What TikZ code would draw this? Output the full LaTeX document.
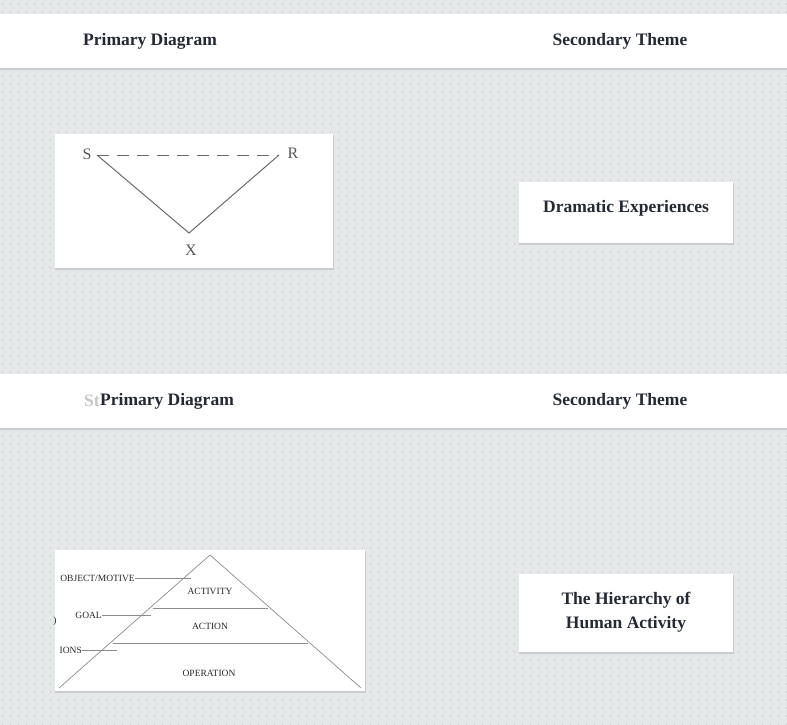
\documentclass[tikz,border=0pt]{standalone}
\usepackage{fontspec}
\setmainfont{Liberation Serif}
\usepackage{xcolor}
\usetikzlibrary{positioning}

\definecolor{pagebg}{HTML}{E5E8E9}
\definecolor{dotgray}{HTML}{CDD2D5}
\definecolor{inkdark}{HTML}{242A35}
\definecolor{shadowgray}{HTML}{C8CCD0}
\definecolor{linegray}{HTML}{6A6A6A}

\tikzset{
  band/.style={fill=white},
  cardshadow/.style={fill=shadowgray},
  headtext/.style={font=\bfseries\fontsize{17.5}{20}\selectfont, text=inkdark},
  figtext/.style={font=\fontsize{9.5}{11}\selectfont, text=black!85, inner sep=0pt},
  trilabel/.style={font=\fontsize{16}{18}\selectfont, text=black!65, inner sep=0pt},
  tri/.style={draw=linegray, line width=1pt},
  pyr/.style={draw=black!45, line width=0.7pt}
}

\begin{document}
\begin{tikzpicture}[x=1pt, y=-1pt]
        \useasboundingbox (0, 0) rectangle (787, 725);
        \fill[pagebg] (0, 0) rectangle (787, 725);
        \foreach \y in {4, 12, ..., 724}
            \draw[dotgray, line width=1.2pt, dash pattern=on 1.2pt off 6.8pt] (2, \y) -- (787, \y);

        % header bands
        \fill[cardshadow] (0, 15) rectangle (787, 70);
        \fill[band] (0, 14) rectangle (787, 68);
        \fill[cardshadow] (0, 375) rectangle (787, 430);
        \fill[band] (0, 374) rectangle (787, 428);

        \node[headtext] (primA) at (150, 41) {Primary Diagram};
        \node[headtext] (secA) at (620, 41) {Secondary Theme};
        \node[headtext, inner xsep=0pt] (primB) at (167, 401) {Primary Diagram};
        \node[headtext, text=black!22, anchor=east, inner xsep=0pt] (ghostB) at (primB.west) {St};
        \node[headtext] (secB) at (620, 401) {Secondary Theme};

        % cards
        \fill[cardshadow] (55, 135) rectangle (334, 270);
        \fill[white] (55, 134) rectangle (333, 268);
        \fill[cardshadow] (519, 183) rectangle (734, 245);
        \fill[white] (519, 182) rectangle (733, 243);
        \fill[cardshadow] (55, 551) rectangle (366, 693);
        \fill[white] (55, 550) rectangle (365, 691);
        \fill[cardshadow] (519, 575) rectangle (734, 654);
        \fill[white] (519, 574) rectangle (733, 652);

        \node[headtext] (dramatic) at (626, 208) {Dramatic Experiences};
        \node[headtext, align=center] (hierarchy) at (626, 612)
            {The Hierarchy of\\[4pt]Human Activity};

        % S R X triangle
        \node[trilabel] (S) at (87, 154) {S};
        \node[trilabel] (R) at (293, 153) {R};
        \node[trilabel] (X) at (191, 250) {X};
        \coordinate (sEnd) at (97, 155);
        \coordinate (rEnd) at (279, 155);
        \coordinate (xTip) at (189, 233);
        \draw[tri, dash pattern=on 12pt off 8pt] (sEnd) -- (rEnd);
        \draw[tri] (sEnd) -- (xTip) -- (rEnd);

        % pyramid
        \coordinate (apex) at (210, 555);
        \coordinate (baseL) at (59, 688);
        \coordinate (baseR) at (361, 688);
        \draw[pyr] (baseL) -- (apex) -- (baseR);
        \coordinate (topL) at (153, 608);
        \coordinate (topR) at (268, 608);
        \coordinate (midL) at (113, 643);
        \coordinate (midR) at (308, 643);
        \draw[pyr, line width=1pt] (topL) -- (topR);
        \draw[pyr, line width=1pt] (midL) -- (midR);

        \node[figtext] (activity) at (210, 591) {ACTIVITY};
        \node[figtext] (action) at (210, 626) {ACTION};
        \node[figtext] (operation) at (209, 673) {OPERATION};

        \node[figtext, anchor=east] (motive) at (135, 578) {OBJECT/MOTIVE};
        \node[figtext, anchor=east] (goal) at (102, 615) {GOAL};
        \node[figtext, anchor=east] (ions) at (82, 650) {IONS};
        \node[figtext] (paren) at (55, 621) {)};
        \coordinate (motiveEnd) at (191, 578);
        \coordinate (goalEnd) at (151, 615);
        \coordinate (ionsEnd) at (117, 650);
        \draw[pyr] (motive.east) -- (motiveEnd);
        \draw[pyr] (goal.east) -- (goalEnd);
        \draw[pyr] (ions.east) -- (ionsEnd);
\end{tikzpicture}
\end{document}
